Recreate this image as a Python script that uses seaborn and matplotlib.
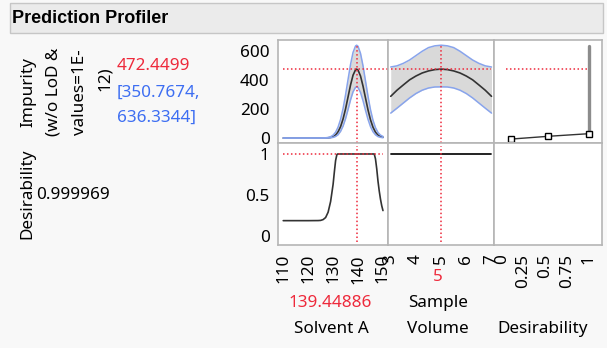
import matplotlib
matplotlib.use("Agg")
import matplotlib.pyplot as plt
from matplotlib.patches import Rectangle
from matplotlib.ticker import MultipleLocator, FixedLocator
import seaborn as sns

# ---------------- data ----------------
current_solvent = 139.44886
current_volume = 5
predicted = 472.4499
ci_low = 350.7674
ci_high = 636.3344
desirability_now = 0.999969

solvent_a = [110, 115, 120, 125, 127, 128, 129, 130, 131, 132, 133, 134, 135, 136, 137, 138, 139,
             139.45, 140, 141, 142, 143, 144, 145, 146, 147, 148, 149, 150]
imp_center = [0, 0, 0, 0.2, 0.7, 1.6, 4, 10, 21, 43, 78, 131, 200, 282, 364, 431, 468,
              472.4, 466, 425, 356, 274, 193, 125, 74, 40, 20, 10, 6]
imp_upper = [0, 0, 0.1, 0.6, 1.6, 4, 9, 20, 40, 75, 128, 202, 296, 402, 505, 587, 631,
             636.3, 629, 580, 495, 391, 286, 194, 122, 71, 38, 20, 11]
imp_lower = [0, 0, 0, 0, 0.1, 0.4, 1.7, 4.5, 11, 23, 46, 82, 133, 196, 262, 317, 348,
             350.8, 346, 312, 256, 190, 128, 78, 43, 22, 10, 5, 2]

sample_volume = [3, 3.25, 3.5, 3.75, 4, 4.25, 4.5, 4.75, 5, 5.25, 5.5, 5.75, 6, 6.25, 6.5, 6.75, 7]
sv_center = [286, 328, 364, 399, 425, 446, 460, 469, 472.4, 469, 460, 446, 425, 399, 364, 328, 286]
sv_upper = [487, 495, 512, 535, 565, 595, 620, 632, 636.3, 632, 620, 595, 565, 535, 512, 495, 487]
sv_lower = [171, 205, 240, 275, 305, 328, 343, 350, 350.8, 350, 343, 328, 305, 275, 240, 205, 171]

des_solvent_x = [110, 120, 124, 125, 126, 127, 128, 129, 130, 130.5, 131, 131.5, 131.8,
                 146.5, 147, 147.5, 148, 148.5, 149, 149.5, 150]
des_solvent_y = [0.187, 0.187, 0.188, 0.19, 0.2, 0.225, 0.29, 0.42, 0.63, 0.78, 0.92, 0.99, 1.0,
                 1.0, 0.94, 0.82, 0.67, 0.55, 0.45, 0.37, 0.31]
des_volume_x = [3, 7]
des_volume_y = [1.0, 1.0]

dfun_des = [0.11, 0.54, 1.01]
dfun_imp = [-7, 12, 30]
dfun_top_des = [1.01, 1.01]
dfun_top_imp = [30, 630]

solvent_ticks = [110, 120, 130, 140, 150]
volume_ticks = [3, 4, 5, 6, 7]
des_ticks = [0, 0.25, 0.5, 0.75, 1]
des_tick_labels = ["0", "0.25", "0.5", "0.75", "1"]
imp_ticks = [0, 200, 400, 600]
desir_ticks = [0, 0.5, 1]
desir_tick_labels = ["0", "0.5", "1"]

# ---------------- style ----------------
sns.set_style("white")
plt.rcParams['font.family'] = ['Noto Sans', 'DejaVu Sans']
plt.rcParams['text.color'] = 'black'
FS = 12.3
RED = '#ee2a3c'
BLUE = '#3d6ef2'
BAND_EDGE = '#88a4ec'
BAND_FILL = '#d9d9d9'
CURVE = '#333333'
SPINE = '#b5b5b5'

W, H = 607, 348
fig = plt.figure(figsize=(W / 100, H / 100), dpi=100)
fig.patch.set_facecolor('#f8f8f8')

# Title bar
fig.patches.append(Rectangle((10 / W, 1 - 33 / H), 593 / W, 30 / H, transform=fig.transFigure,
                             facecolor='#ebebeb', edgecolor='#c6c6c6', lw=1, zorder=0))
fig.text(12 / W, 1 - 18.5 / H, 'Prediction Profiler', fontweight='bold', fontsize=13,
         family=['Liberation Sans', 'DejaVu Sans'], va='center', ha='left', color='black')


def ax_at(x0, y0, x1, y1):
    ax = fig.add_axes([x0 / W, 1 - y1 / H, (x1 - x0) / W, (y1 - y0) / H])
    ax.set_facecolor('white')
    for s in ax.spines.values():
        s.set_color(SPINE)
        s.set_linewidth(1.2)
    ax.tick_params(which='both', color='#9a9a9a', labelcolor='black', labelsize=FS, pad=2)
    ax.tick_params(which='major', length=4, width=0.9)
    ax.tick_params(which='minor', length=2.5, width=0.9)
    return ax


XL = (278, 387.7, 494, 601.7)
Y_TOP, Y_MID, Y_BOT = 40, 143, 245

ax_tl = ax_at(XL[0], Y_TOP, XL[1], Y_MID)
ax_tm = ax_at(XL[1], Y_TOP, XL[2], Y_MID)
ax_tr = ax_at(XL[2], Y_TOP, XL[3], Y_MID)
ax_bl = ax_at(XL[0], Y_MID, XL[1], Y_BOT)
ax_bm = ax_at(XL[1], Y_MID, XL[2], Y_BOT)
ax_br = ax_at(XL[2], Y_MID, XL[3], Y_BOT)

imp_lim = (-34, 672)
des_lim = (-0.11, 1.134)
sol_lim = (107.9, 151.9)
vol_lim = (2.88, 7.1)
dx_lim = (-0.089, 1.154)

dot = (0, (1, 1.6))

# --- top-left: impurity vs solvent A ---
ax = ax_tl
ax.fill_between(solvent_a, imp_lower, imp_upper, color=BAND_FILL, lw=0)
sns.lineplot(x=solvent_a, y=imp_center, ax=ax, color=CURVE, lw=1.2)
sns.lineplot(x=solvent_a, y=imp_upper, ax=ax, color=BAND_EDGE, lw=1.1)
sns.lineplot(x=solvent_a, y=imp_lower, ax=ax, color=BAND_EDGE, lw=1.1)
ax.hlines(predicted, solvent_a[0], 151.9, color=RED, lw=1.1, linestyle=dot, zorder=5)
ax.vlines(current_solvent, imp_lim[0], 645, color=RED, lw=1.1, linestyle=dot, zorder=5)

# --- top-middle: impurity vs sample volume ---
ax = ax_tm
ax.fill_between(sample_volume, sv_lower, sv_upper, color=BAND_FILL, lw=0)
sns.lineplot(x=sample_volume, y=sv_upper, ax=ax, color=BAND_EDGE, lw=1.1)
sns.lineplot(x=sample_volume, y=sv_lower, ax=ax, color=BAND_EDGE, lw=1.1)
sns.lineplot(x=sample_volume, y=sv_center, ax=ax, color=CURVE, lw=1.2)
ax.hlines(predicted, sample_volume[0], sample_volume[-1], color=RED, lw=1.1, linestyle=dot, zorder=5)
ax.vlines(current_volume, imp_lim[0], 645, color=RED, lw=1.1, linestyle=dot, zorder=5)

# --- top-right: desirability function ---
ax = ax_tr
sns.lineplot(x=dfun_top_des, y=dfun_top_imp, ax=ax, color='#8c8c8c', lw=2.4,
             sort=False, estimator=None)
sns.lineplot(x=dfun_des, y=dfun_imp, ax=ax, color=CURVE, lw=1.0, marker='s', markersize=4.5,
             markerfacecolor='white', markeredgecolor='black', markeredgewidth=1.0)
ax.hlines(predicted, 0.05, dfun_top_des[0], color=RED, lw=1.1, linestyle=dot, zorder=5)

# --- bottom-left: desirability vs solvent A ---
ax = ax_bl
sns.lineplot(x=des_solvent_x, y=des_solvent_y, ax=ax, color=CURVE, lw=1.2)
ax.hlines(1.0, solvent_a[0], solvent_a[-1], color=RED, lw=1.1, linestyle=dot, zorder=5)
ax.vlines(current_solvent, -0.07, 1.1, color=RED, lw=1.1, linestyle=dot, zorder=5)

# --- bottom-middle: desirability vs sample volume ---
ax = ax_bm
sns.lineplot(x=des_volume_x, y=des_volume_y, ax=ax, color='#111111', lw=1.3)
ax.vlines(current_volume, -0.07, 1.1, color=RED, lw=1.1, linestyle=dot, zorder=5)

# --- axes limits & ticks ---
for a in (ax_tl, ax_tm, ax_tr):
    a.set_ylim(*imp_lim)
    a.set_xticks([])
for a in (ax_bl, ax_bm, ax_br):
    a.set_ylim(*des_lim)
for a in (ax_tl, ax_bl):
    a.set_xlim(*sol_lim)
for a in (ax_tm, ax_bm):
    a.set_xlim(*vol_lim)
for a in (ax_tr, ax_br):
    a.set_xlim(*dx_lim)
for a in (ax_tm, ax_tr, ax_bm, ax_br):
    a.set_yticks([])

ax_tl.set_yticks(imp_ticks)
ax_tl.set_yticklabels([str(t) for t in imp_ticks])
ax_tl.yaxis.set_minor_locator(FixedLocator([100, 300, 500]))
ax_bl.set_yticks(desir_ticks)
ax_bl.set_yticklabels(desir_tick_labels)
ax_bl.yaxis.set_minor_locator(FixedLocator([0.25, 0.75]))

ax_bl.set_xticks(solvent_ticks)
ax_bl.set_xticklabels([str(t) for t in solvent_ticks])
ax_bl.xaxis.set_minor_locator(MultipleLocator(5))
ax_bm.set_xticks(volume_ticks)
ax_bm.set_xticklabels([str(t) for t in volume_ticks])
ax_bm.xaxis.set_minor_locator(MultipleLocator(0.5))
ax_br.set_xticks(des_ticks)
ax_br.set_xticklabels(des_tick_labels)
for a in (ax_bl, ax_bm, ax_br):
    a.tick_params(axis='x', which='both', labelrotation=90, pad=2.5)
for a in (ax_tl, ax_tm, ax_tr, ax_bl, ax_bm, ax_br):
    a.set_xlabel('')
    a.set_ylabel('')


# ---------------- texts ----------------
def ftext(x, y, s, **kw):
    kw.setdefault('fontsize', FS)
    kw.setdefault('color', 'black')
    return fig.text(x / W, 1 - y / H, s, **kw)


ftext(28, 92, 'Impurity', rotation=90, ha='center', va='center')
ftext(53.5, 91.5, '(w/o LoD &', rotation=90, ha='center', va='center')
ftext(79.5, 92, 'values=1E-', rotation=90, ha='center', va='center')
ftext(104.5, 79, '12)', rotation=90, ha='center', va='center')
ftext(27, 194, 'Desirability', rotation=90, ha='center', va='center')

ftext(117, 66, f'{predicted:.4f}', color=RED, ha='left', va='center')
ftext(117, 93, f'[{ci_low:.4f},', color=BLUE, ha='left', va='center')
ftext(117, 118, f'{ci_high:.4f}]', color=BLUE, ha='left', va='center')
ftext(36, 195, f'{desirability_now:.6f}', ha='left', va='center')

ftext(330, 303, f'{current_solvent:.5f}', color=RED, ha='center', va='center')
ftext(331, 329, 'Solvent A', ha='center', va='center')
ftext(438, 277, f'{current_volume}', color=RED, ha='center', va='center')
ftext(438, 303, 'Sample', ha='center', va='center')
ftext(438, 329, 'Volume', ha='center', va='center')
ftext(543, 329, 'Desirability', ha='center', va='center')

fig.savefig('out.png', dpi=100, facecolor=fig.get_facecolor())
